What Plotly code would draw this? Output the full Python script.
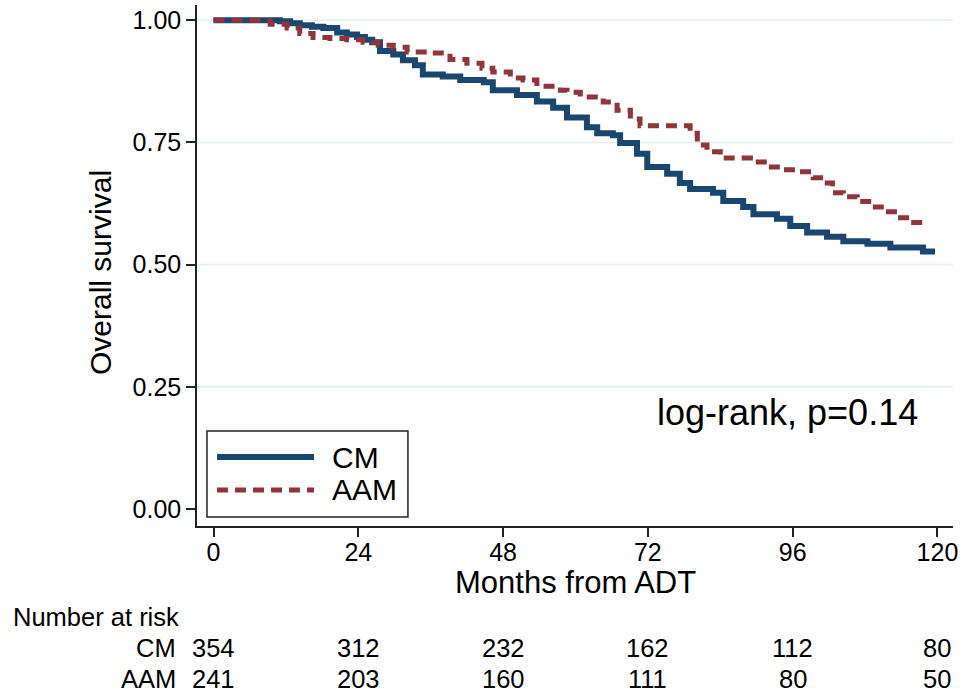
import plotly.graph_objects as go

# ---- data ----
cm_months = [0, 11.0, 12.7, 14.3, 16.3, 18.2, 20.5, 22.1, 23.8, 25.1, 26.3, 27.6, 29.8, 31.4, 33.4,
             34.7, 38.0, 40.9, 44.8, 46.3, 50.3, 53.6, 56.3, 58.6, 61.9, 63.6, 66.2, 67.4, 70.2,
             71.9, 75.2, 77.3, 79.0, 82.8, 84.5, 87.8, 89.5, 93.4, 95.6, 98.4, 101.7, 104.4,
             108.4, 112.2, 117.6, 119.6]
cm_surv = [1.0, 0.998, 0.994, 0.99, 0.987, 0.984, 0.975, 0.971, 0.966, 0.960, 0.955, 0.937, 0.930,
           0.918, 0.908, 0.889, 0.885, 0.878, 0.873, 0.857, 0.847, 0.834, 0.821, 0.801, 0.781,
           0.769, 0.765, 0.749, 0.727, 0.700, 0.686, 0.667, 0.655, 0.647, 0.630, 0.618, 0.603,
           0.594, 0.579, 0.566, 0.557, 0.548, 0.543, 0.535, 0.527, 0.527]

aam_months = [0, 9.4, 12.2, 14.3, 16.5, 19.3, 22.1, 24.8, 27.3, 29.8, 32.1, 35.9, 39.2, 42.0, 44.5,
              46.3, 49.2, 51.3, 53.6, 57.5, 58.6, 60.8, 64.6, 66.9, 69.1, 70.7, 79.0, 80.2, 81.8,
              84.0, 89.0, 91.8, 94.4, 96.7, 99.4, 101.1, 102.6, 104.4, 106.7, 109.2, 111.3, 113.3,
              115.5, 118.4]
aam_surv = [1.0, 0.992, 0.984, 0.973, 0.965, 0.963, 0.960, 0.955, 0.949, 0.945, 0.935, 0.933, 0.920,
            0.912, 0.902, 0.894, 0.882, 0.878, 0.865, 0.857, 0.853, 0.843, 0.833, 0.816, 0.798,
            0.784, 0.769, 0.745, 0.731, 0.718, 0.710, 0.700, 0.694, 0.690, 0.678, 0.667, 0.647,
            0.639, 0.629, 0.618, 0.608, 0.596, 0.586, 0.586]

x_ticks = [0, 24, 48, 72, 96, 120]
y_ticks = [0, 0.25, 0.5, 0.75, 1.0]
y_tick_labels = ["0.00", "0.25", "0.50", "0.75", "1.00"]
group_names = ["CM", "AAM"]
at_risk_cm = [354, 312, 232, 162, 112, 80]
at_risk_aam = [241, 203, 160, 111, 80, 50]

NAVY = "#1a476f"
MAROON = "#90353b"
FONT = "Liberation Sans, Arial, sans-serif"

fig = go.Figure()
fig.add_trace(go.Scatter(x=cm_months, y=cm_surv, mode="lines", line_shape="hv",
                         line=dict(color=NAVY, width=6), name="CM", showlegend=False))
fig.add_trace(go.Scatter(x=aam_months, y=aam_surv, mode="lines", line_shape="hv",
                         line=dict(color=MAROON, width=5, dash="11px,7px"), name="AAM",
                         showlegend=False))

# gridlines (none at 0)
shapes = []
for v in y_ticks[1:]:
    shapes.append(dict(type="line", xref="paper", x0=0, x1=1, yref="y", y0=v, y1=v,
                       line=dict(color="#e6eeef", width=1.6), layer="below"))

# manual legend box
shapes.append(dict(type="rect", xref="paper", yref="paper", x0=0.0132, x1=0.279, y0=0.0173, y1=0.1823,
                   line=dict(color="#222222", width=1.5), fillcolor="white", layer="above"))
shapes.append(dict(type="line", xref="paper", yref="paper", x0=0.0265, x1=0.1548, y0=0.1324, y1=0.1324,
                   line=dict(color=NAVY, width=6), layer="above"))
shapes.append(dict(type="line", xref="paper", yref="paper", x0=0.0265, x1=0.1548, y0=0.0691, y1=0.0691,
                   line=dict(color=MAROON, width=5, dash="11px,7px"), layer="above"))

annotations = [
    dict(text="CM", xref="paper", yref="paper", x=0.1759, y=0.1324, xanchor="left", yanchor="middle",
         showarrow=False, font=dict(size=30, color="black")),
    dict(text="AAM", xref="paper", yref="paper", x=0.1759, y=0.0691, xanchor="left", yanchor="middle",
         showarrow=False, font=dict(size=30, color="black")),
    dict(text="log-rank, p=0.14", xref="paper", yref="paper", x=0.7817, y=0.2188, xanchor="center",
         yanchor="middle", showarrow=False, font=dict(size=36, color="black")),
    dict(text="Months from ADT", xref="paper", yref="paper", x=0.5, y=-0.1075, xanchor="center",
         yanchor="middle", showarrow=False, font=dict(size=31, color="black")),
    dict(text="Overall survival", xref="paper", yref="paper", x=-0.1283, y=0.4856, xanchor="center",
         yanchor="middle", textangle=-90, showarrow=False, font=dict(size=30, color="black")),
    dict(text="Number at risk", xref="paper", yref="paper", x=-0.246, y=-0.1747, xanchor="left",
         yanchor="middle", showarrow=False, font=dict(size=25.5, color="black")),
]
row_y = [-0.234, -0.2937]
for name, counts, yy in zip(group_names, [at_risk_cm, at_risk_aam], row_y):
    annotations.append(dict(text=name, xref="paper", yref="paper", x=-0.025, y=yy, xanchor="right",
                            yanchor="middle", showarrow=False, font=dict(size=25.5, color="black")))
    for t, c in zip(x_ticks, counts):
        annotations.append(dict(text=str(c), xref="x", yref="paper", x=t, y=yy, xanchor="center",
                                yanchor="middle", showarrow=False, font=dict(size=25.5, color="black")))

fig.update_layout(
    width=968, height=698,
    margin=dict(l=197, r=15, t=5, b=172),
    paper_bgcolor="white", plot_bgcolor="white",
    font=dict(family=FONT, color="black"),
    shapes=shapes, annotations=annotations,
    xaxis=dict(range=[-2.735, 122.58], tickvals=x_ticks, ticktext=[str(t) for t in x_ticks],
               showgrid=False, zeroline=False, showline=True, linecolor="#222222", linewidth=1.5,
               ticks="outside", ticklen=9, tickwidth=1.5, tickcolor="#222222",
               ticklabelstandoff=-6, tickfont=dict(size=25)),
    yaxis=dict(range=[-0.0348, 1.0313], tickvals=y_ticks, ticktext=y_tick_labels,
               showgrid=False, zeroline=False, showline=True, linecolor="#222222", linewidth=1.5,
               ticks="outside", ticklen=9, tickwidth=1.5, tickcolor="#222222",
               tickfont=dict(size=25)),
)

fig.write_html("out.html")
